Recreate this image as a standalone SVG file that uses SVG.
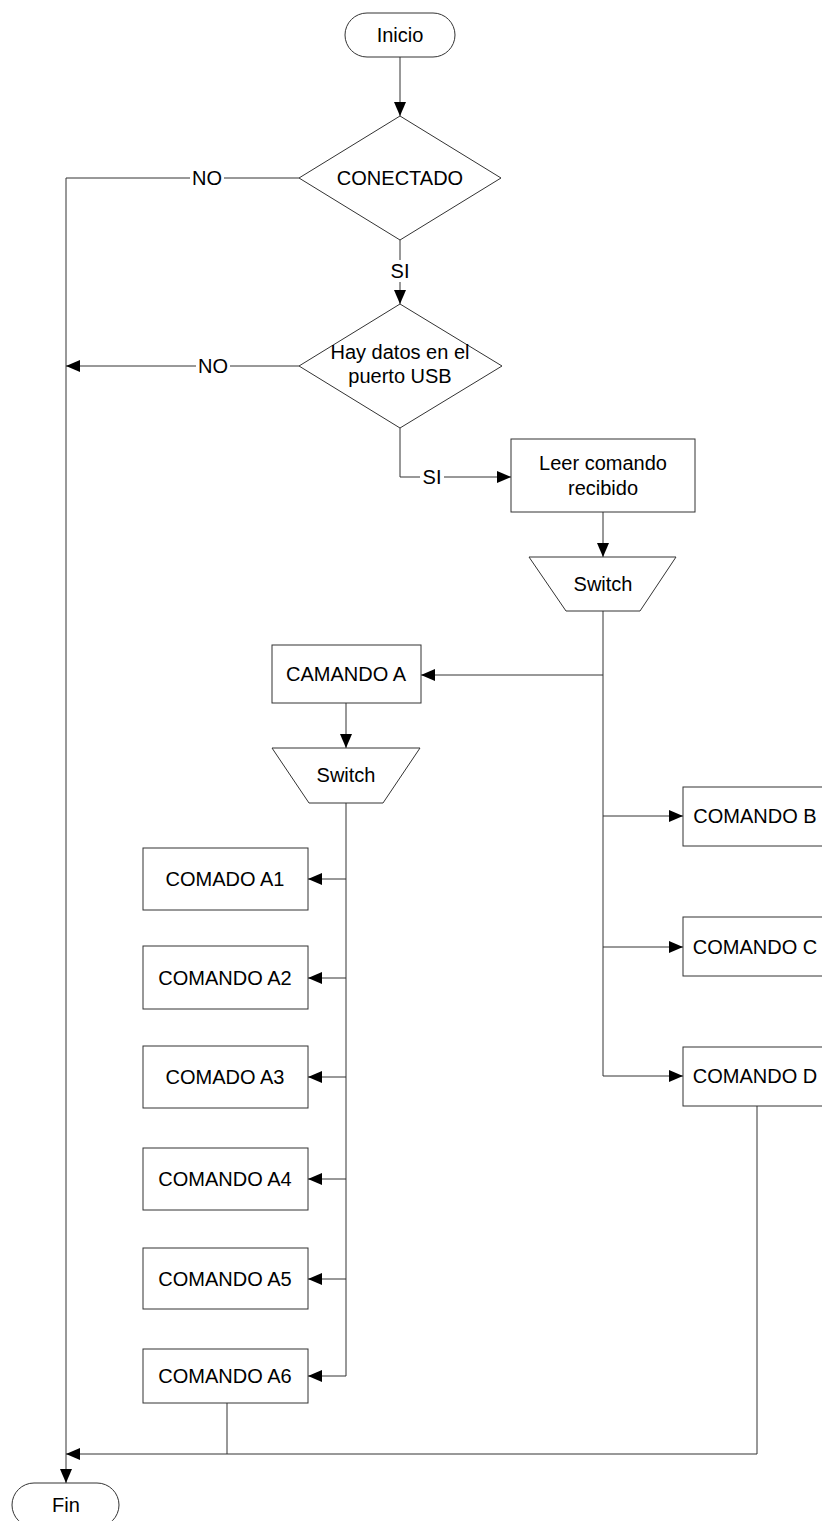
<svg xmlns="http://www.w3.org/2000/svg" width="822" height="1521" viewBox="0 0 822 1521">
  <style>
    .shape { fill: #ffffff; stroke: #333333; stroke-width: 1; }
    .wire { fill: none; stroke: #333333; stroke-width: 1; }
    .label { font-family: "Liberation Sans", Arial, sans-serif; font-size: 20px; fill: #000000; text-anchor: middle; }
    .tag { font-family: "Liberation Sans", Arial, sans-serif; font-size: 20px; fill: #000000; text-anchor: middle; }
  </style>
  <defs>
    <marker id="arrow" viewBox="0 0 14 12" refX="14" refY="6" markerWidth="14" markerHeight="12" markerUnits="userSpaceOnUse" orient="auto">
      <path d="M0,0 L14,6 L0,12 Z" fill="#000000"/>
    </marker>
  </defs>

  <rect width="822" height="1521" fill="#ffffff"/>

  <!-- connectors -->
  <g id="connectors">
    <path class="wire" d="M400,57 V116" marker-end="url(#arrow)"/>
    <path class="wire" d="M400,240 V304" marker-end="url(#arrow)"/>
    <path class="wire" d="M299,178 H66 V1483" marker-end="url(#arrow)"/>
    <path class="wire" d="M299,366 H66" marker-end="url(#arrow)"/>
    <path class="wire" d="M400,428 V477 H511" marker-end="url(#arrow)"/>
    <path class="wire" d="M603,512 V557" marker-end="url(#arrow)"/>
    <path class="wire" d="M603,611 V1076 H683" marker-end="url(#arrow)"/>
    <path class="wire" d="M603,675 H421" marker-end="url(#arrow)"/>
    <path class="wire" d="M603,816 H683" marker-end="url(#arrow)"/>
    <path class="wire" d="M603,947 H683" marker-end="url(#arrow)"/>
    <path class="wire" d="M346,703 V748" marker-end="url(#arrow)"/>
    <path class="wire" d="M346,803 V1376 H308" marker-end="url(#arrow)"/>
    <path class="wire" d="M346,879 H308" marker-end="url(#arrow)"/>
    <path class="wire" d="M346,978 H308" marker-end="url(#arrow)"/>
    <path class="wire" d="M346,1077 H308" marker-end="url(#arrow)"/>
    <path class="wire" d="M346,1179 H308" marker-end="url(#arrow)"/>
    <path class="wire" d="M346,1279 H308" marker-end="url(#arrow)"/>
    <path class="wire" d="M757,1106 V1454 H66" marker-end="url(#arrow)"/>
    <path class="wire" d="M227,1403 V1454"/>

    <!-- branch labels -->
    <rect x="388" y="260" width="24" height="22" fill="#ffffff"/>
    <text class="tag" x="400" y="278">SI</text>
    <rect x="190" y="168" width="34" height="22" fill="#ffffff"/>
    <text class="tag" x="207" y="185">NO</text>
    <rect x="196" y="356" width="34" height="22" fill="#ffffff"/>
    <text class="tag" x="213" y="373">NO</text>
    <rect x="420" y="467" width="24" height="22" fill="#ffffff"/>
    <text class="tag" x="432" y="484">SI</text>
  </g>

  <g id="inicio">
    <rect class="shape" x="345" y="13" width="110" height="44" rx="22" ry="22"/>
    <text class="label" x="400" y="42">Inicio</text>
  </g>

  <g id="conectado">
    <polygon class="shape" points="400,116 501,178 400,240 299,178"/>
    <text class="label" x="400" y="185">CONECTADO</text>
  </g>

  <g id="hay-datos">
    <polygon class="shape" points="400,304 502,366 400,428 299,366"/>
    <text class="label" x="400" y="359">Hay datos en el</text>
    <text class="label" x="400" y="383">puerto USB</text>
  </g>

  <g id="leer-comando">
    <rect class="shape" x="511" y="439" width="184" height="73"/>
    <text class="label" x="603" y="470">Leer comando</text>
    <text class="label" x="603" y="495">recibido</text>
  </g>

  <g id="switch-main">
    <polygon class="shape" points="529,557 676,557 640,611 566,611"/>
    <text class="label" x="603" y="591">Switch</text>
  </g>

  <g id="camando-a">
    <rect class="shape" x="272" y="645" width="149" height="58"/>
    <text class="label" x="346" y="681">CAMANDO A</text>
  </g>

  <g id="switch-a">
    <polygon class="shape" points="272,748 420,748 383,803 309,803"/>
    <text class="label" x="346" y="782">Switch</text>
  </g>

  <g id="comado-a1">
    <rect class="shape" x="143" y="848" width="165" height="62"/>
    <text class="label" x="225" y="886">COMADO A1</text>
  </g>

  <g id="comando-a2">
    <rect class="shape" x="143" y="946" width="165" height="63"/>
    <text class="label" x="225" y="985">COMANDO A2</text>
  </g>

  <g id="comado-a3">
    <rect class="shape" x="143" y="1046" width="165" height="62"/>
    <text class="label" x="225" y="1084">COMADO A3</text>
  </g>

  <g id="comando-a4">
    <rect class="shape" x="143" y="1148" width="165" height="62"/>
    <text class="label" x="225" y="1186">COMANDO A4</text>
  </g>

  <g id="comando-a5">
    <rect class="shape" x="143" y="1248" width="165" height="61"/>
    <text class="label" x="225" y="1286">COMANDO A5</text>
  </g>

  <g id="comando-a6">
    <rect class="shape" x="143" y="1349" width="165" height="54"/>
    <text class="label" x="225" y="1383">COMANDO A6</text>
  </g>

  <g id="comando-b">
    <rect class="shape" x="683" y="787" width="148" height="59"/>
    <text class="label" x="755" y="823">COMANDO B</text>
  </g>

  <g id="comando-c">
    <rect class="shape" x="683" y="917" width="148" height="59"/>
    <text class="label" x="755" y="954">COMANDO C</text>
  </g>

  <g id="comando-d">
    <rect class="shape" x="683" y="1047" width="148" height="59"/>
    <text class="label" x="755" y="1083">COMANDO D</text>
  </g>

  <g id="fin">
    <rect class="shape" x="12" y="1483" width="107" height="44" rx="22" ry="22"/>
    <text class="label" x="66" y="1512">Fin</text>
  </g>
</svg>
